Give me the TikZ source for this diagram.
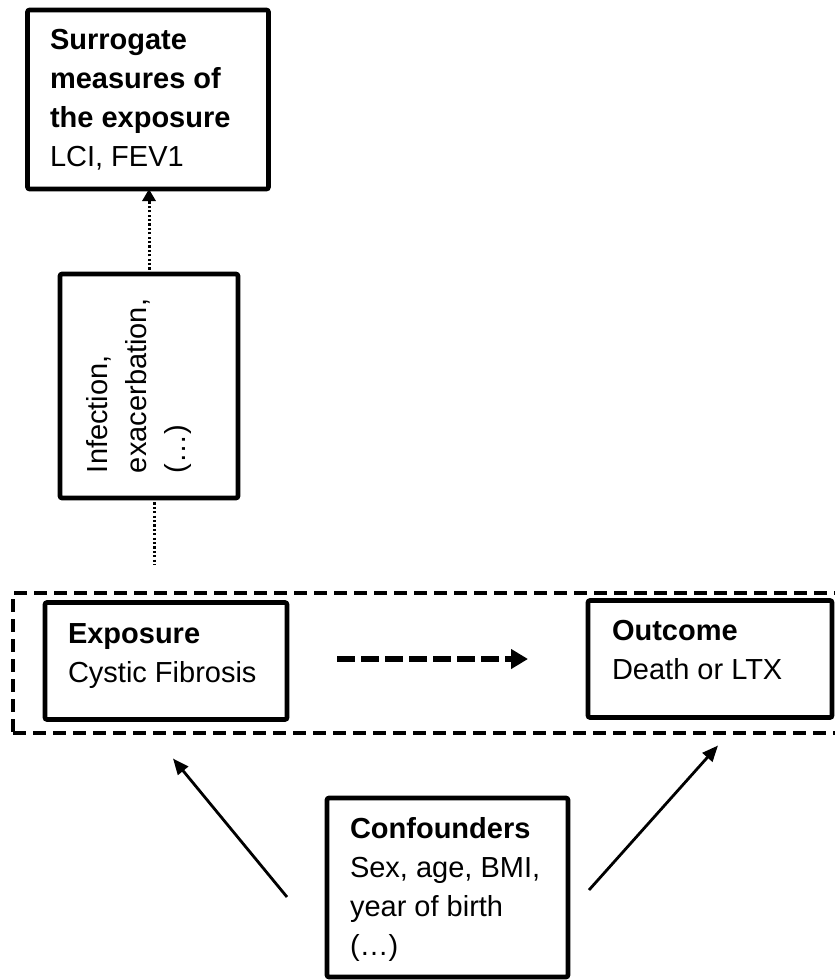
\documentclass[tikz,border=0pt]{standalone}
\usepackage{fontspec}
\setmainfont{Liberation Sans}
\usetikzlibrary{arrows.meta}
\begin{document}
\begin{tikzpicture}[x=1pt,y=-1pt,
  boxstyle/.style={draw, line width=4.6pt, rounded corners=2pt, inner sep=0pt, outer sep=0pt},
  grpbox/.style={draw, line width=4.4pt, dash pattern=on 13pt off 7pt, inner sep=0pt, outer sep=0pt},
  txt/.style={anchor=base west, inner sep=0pt, outer sep=0pt, font=\fontsize{29}{39}\selectfont},
  dotline/.style={line width=3pt, dash pattern=on 2.2pt off 2.2pt},
  dotarrow/.style={dotline, -{Triangle[length=12pt,width=13pt]}},
  dasharrow/.style={line width=5.5pt, dash pattern=on 18pt off 6pt, -{Triangle[length=17pt,width=19pt]}},
  carrow/.style={line width=2.8pt, -{Triangle[length=16pt,width=13pt]}}
]
\useasboundingbox (0,0) rectangle (835,980);
\clip (0,0) rectangle (835,980);

% boxes
\node[boxstyle, minimum width=241pt, minimum height=179pt] (sur) at (148,99.5) {};
\node[boxstyle, minimum width=178pt, minimum height=224pt] (inf) at (149,386) {};
\node[grpbox, minimum width=837pt, minimum height=140pt] (grp) at (431.5,663) {};
\node[boxstyle, minimum width=242pt, minimum height=117pt] (exp) at (166,661) {};
\node[boxstyle, minimum width=244pt, minimum height=117pt] (out) at (710,659) {};
\node[boxstyle, minimum width=241pt, minimum height=179pt] (conf) at (447.5,887.5) {};

% texts
\node[txt] (surT) at (50,49) {\parbox[t]{215pt}{\raggedright\textbf{Surrogate}\\\textbf{measures of}\\\textbf{the exposure}\\LCI, FEV1}};
\node[txt, rotate=90] (infT) at (107,473) {\parbox[t]{200pt}{\raggedright Infection,\\exacerbation,\\(…)}};
\node[txt] (expT) at (68,643) {\parbox[t]{215pt}{\raggedright\textbf{Exposure}\\Cystic Fibrosis}};
\node[txt] (outT) at (612,640) {\parbox[t]{215pt}{\raggedright\textbf{Outcome}\\Death or LTX}};
\node[txt] (confT) at (350,838) {\parbox[t]{215pt}{\raggedright\textbf{Confounders}\\Sex, age, BMI,\\year of birth\\(…)}};

% connectors
\draw[dotarrow] (inf.north) -- (inf.north |- sur.south);
\coordinate (dotend) at (154,565);
\draw[dotline] (dotend |- inf.south) -- (dotend);
\draw[dasharrow] ([xshift=50pt]exp.east |- out.west) -- ([xshift=-60pt]out.west);
\draw[carrow] ([shift={(-40,9.5)}]conf.west) -- ([shift={(7,39)}]exp.south);
\draw[carrow] ([shift={(21,2.5)}]conf.east) -- ([shift={(8,28)}]out.south);
\end{tikzpicture}
\end{document}
